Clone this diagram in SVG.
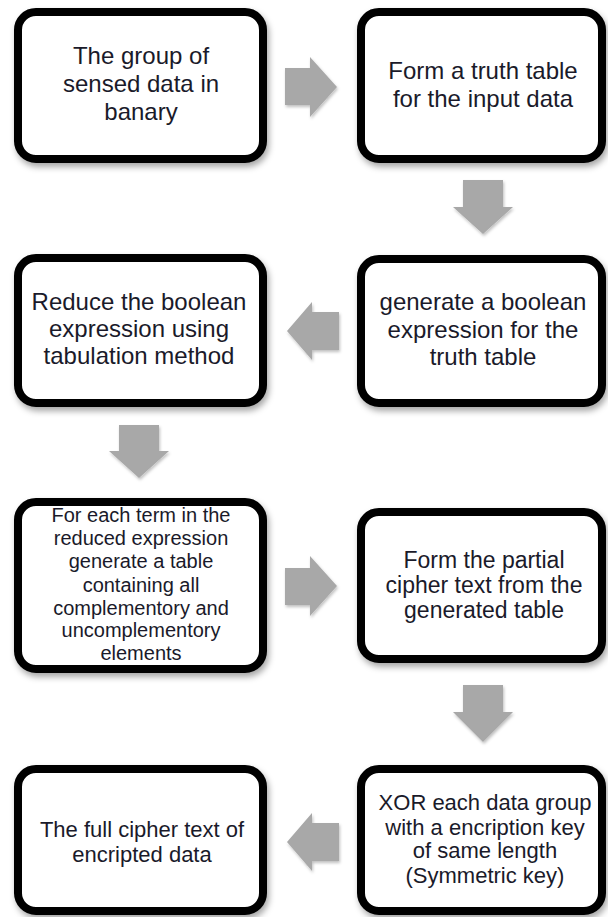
<svg xmlns="http://www.w3.org/2000/svg" width="608" height="917" viewBox="0 0 608 917">
<defs>
<filter id="sh" x="-10%" y="-10%" width="125%" height="130%">
<feDropShadow dx="2" dy="4" stdDeviation="3" flood-color="#000" flood-opacity="0.35"/>
</filter>
<filter id="ash" x="-20%" y="-20%" width="150%" height="150%">
<feDropShadow dx="1" dy="2" stdDeviation="1.5" flood-color="#000" flood-opacity="0.25"/>
</filter>
</defs>
<style>
.box{fill:#fff;stroke:#000;stroke-width:8;filter:url(#sh)}
.t{font-family:"Liberation Sans",Arial,sans-serif;font-size:22px;fill:#1a1a2a;text-anchor:middle}
.l{font-size:24px}
.m{font-size:23px}
.s{font-size:20px}
.arr{fill:#a8a8a8;filter:url(#ash)}
</style>
<rect width="608" height="917" fill="#fff"/>
<g id="connectors">
<polygon class="arr" points="285,68 310,68 310,57 337,87 310,117 310,105 285,105"/>
<polygon class="arr" points="463,180 503,180 503,207 513,207 483,234 453,207 463,207"/>
<polygon class="arr" points="339,312 312,312 312,302 287,331 312,360 312,350 339,350"/>
<polygon class="arr" points="119,425 159,425 159,451 169,451 139,478 109,451 119,451"/>
<polygon class="arr" points="285,568 310,568 310,556 337,586 310,616 310,605 285,605"/>
<polygon class="arr" points="463,685 503,685 503,712 513,712 483,742 453,712 463,712"/>
<polygon class="arr" points="339,823 312,823 312,813 287,842 312,871 312,861 339,861"/>
</g>
<g id="n1">
<rect class="box" x="18" y="12" width="245" height="147" rx="18"/>
<text class="t l" x="141" y="64">The group of</text>
<text class="t l" x="141" y="92">sensed data in</text>
<text class="t l" x="141" y="120">banary</text>
</g>
<g id="n2">
<rect class="box" x="361" y="12" width="241" height="147" rx="18"/>
<text class="t l" x="483" y="79">Form a truth table</text>
<text class="t l" x="483" y="107">for the input data</text>
</g>
<g id="n3">
<rect class="box" x="18" y="258" width="245" height="145" rx="18"/>
<text class="t l" x="139" y="310">Reduce the boolean</text>
<text class="t l" x="139" y="337">expression using</text>
<text class="t l" x="139" y="364">tabulation  method</text>
</g>
<g id="n4">
<rect class="box" x="361" y="259" width="241" height="144" rx="18"/>
<text class="t l" x="483" y="310">generate a boolean</text>
<text class="t l" x="483" y="338">expression for the</text>
<text class="t l" x="483" y="365">truth table</text>
</g>
<g id="n5">
<rect class="box" x="18" y="502" width="245" height="167" rx="18"/>
<text class="t s" x="141" y="522">For each term in the</text>
<text class="t s" x="141" y="545">reduced expression</text>
<text class="t s" x="141" y="568">generate a table</text>
<text class="t s" x="141" y="592">containing all</text>
<text class="t s" x="141" y="615">complementory and</text>
<text class="t s" x="141" y="637">uncomplementory</text>
<text class="t s" x="141" y="660">elements</text>
</g>
<g id="n6">
<rect class="box" x="361" y="512" width="241" height="147" rx="18"/>
<text class="t m" x="484" y="568">Form the partial</text>
<text class="t m" x="484" y="593">cipher text from the</text>
<text class="t m" x="484" y="618">generated table</text>
</g>
<g id="n7">
<rect class="box" x="18" y="769" width="245" height="142" rx="18"/>
<text class="t" x="142" y="837">The full cipher text of</text>
<text class="t" x="142" y="862">encripted  data</text>
</g>
<g id="n8">
<rect class="box" x="361" y="769" width="241" height="142" rx="18"/>
<text class="t" x="485" y="810">XOR each data group</text>
<text class="t" x="485" y="835">with a encription key</text>
<text class="t" x="485" y="858">of same length</text>
<text class="t" x="485" y="883">(Symmetric key)</text>
</g>
</svg>
